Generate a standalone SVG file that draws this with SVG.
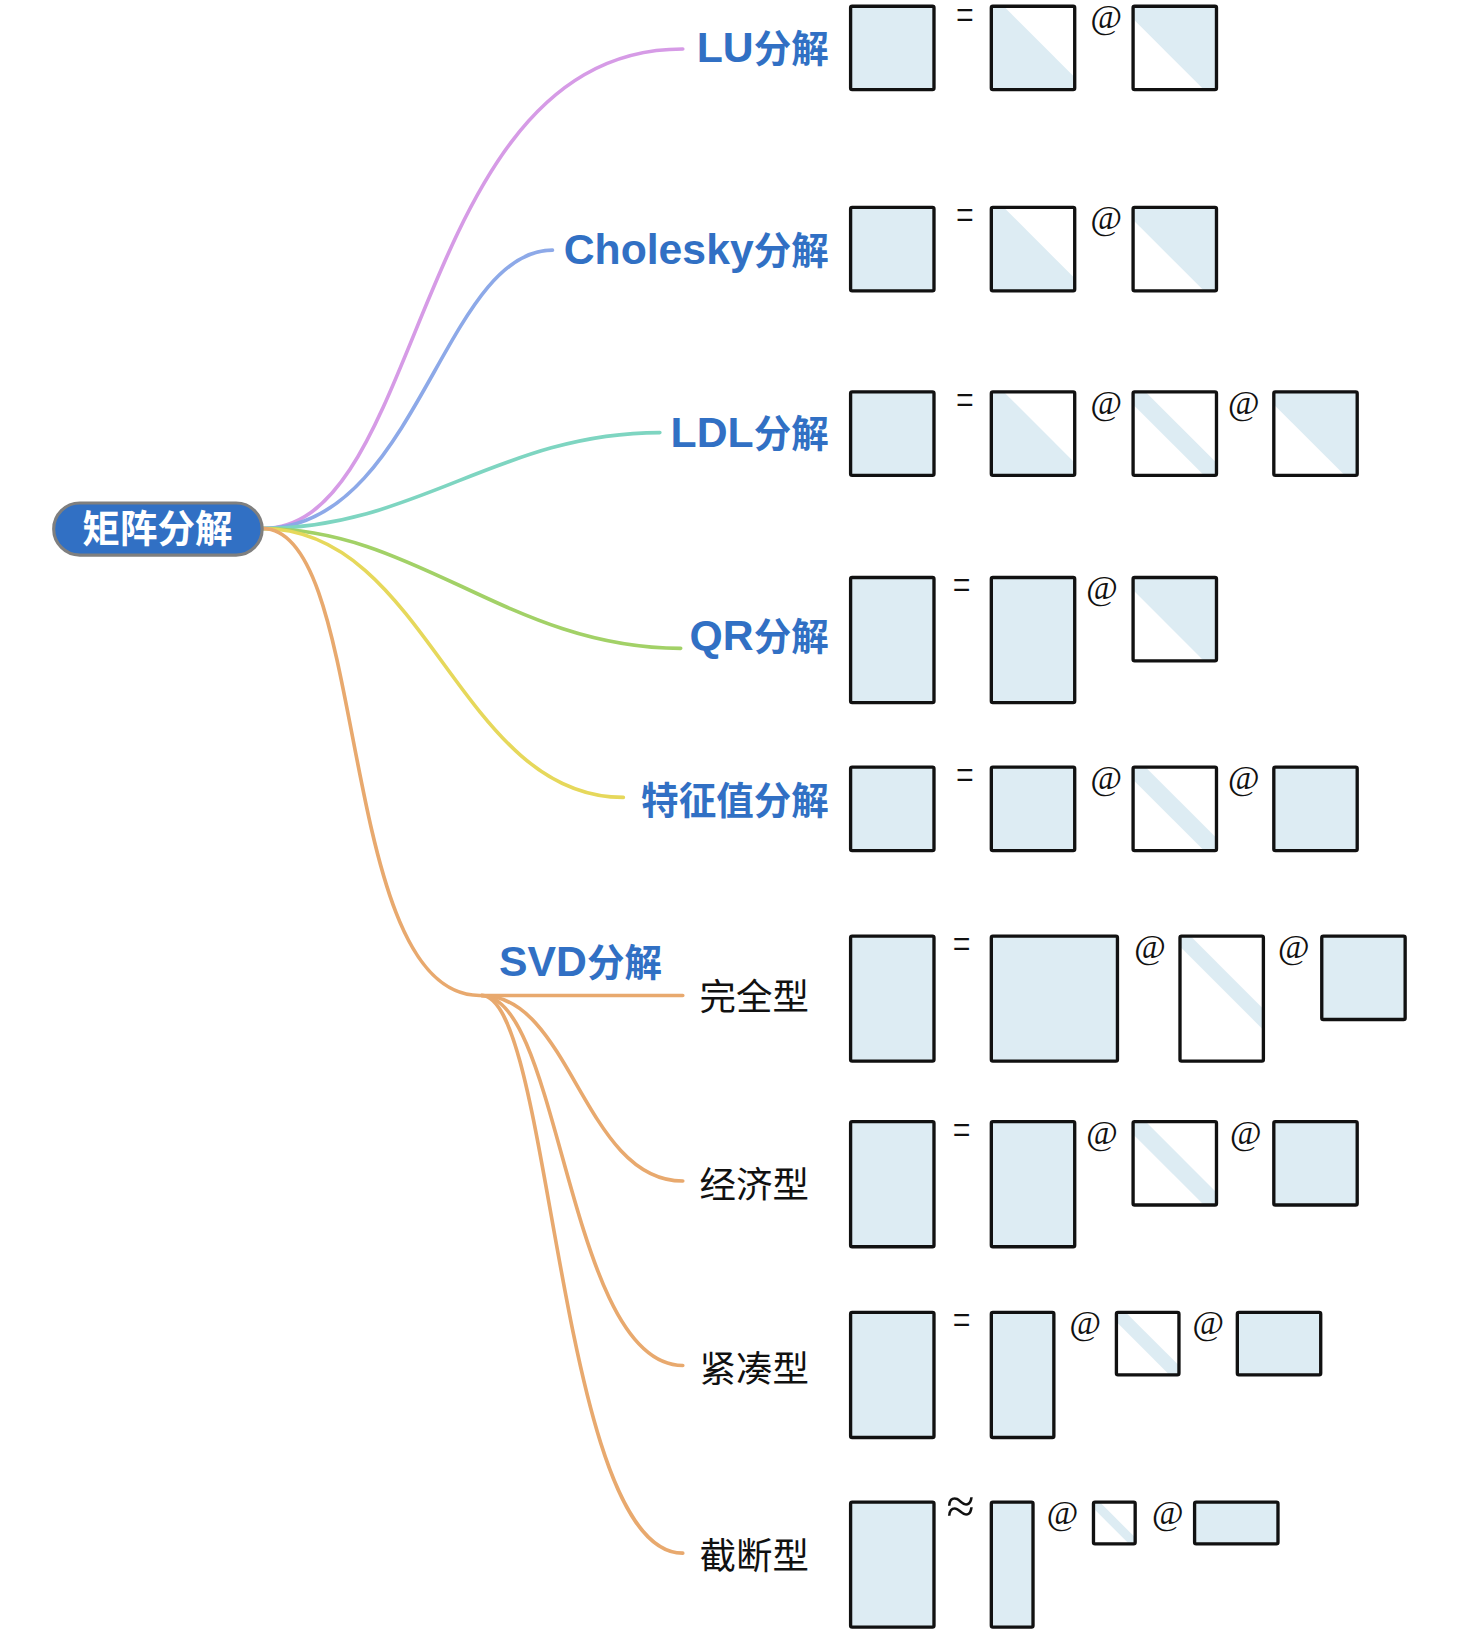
<svg xmlns="http://www.w3.org/2000/svg" width="1477" height="1637" viewBox="0 0 1477 1637">
<style>
.lbl{font-family:"Liberation Sans","Noto Sans CJK SC",sans-serif;font-weight:bold;font-size:36px;fill:#3170C4;text-anchor:end}
.lat{font-size:41px}
.sub{font-family:"Noto Sans CJK SC",sans-serif;font-size:35px;fill:#111}
.sym{font-family:"Liberation Serif",serif;font-size:44px;fill:#111}
.ap{font-family:"Liberation Serif",serif;font-size:48px;fill:#111}
.at{font-family:"Liberation Serif",serif;font-style:italic;font-size:33px;fill:#111;text-anchor:middle}
.edge{fill:none;stroke-width:3.5;stroke-linecap:round}
.mb{fill:none;stroke:#111;stroke-width:3.2}
.mf{fill:#DDECF3;stroke:#111;stroke-width:3.2}
.tri{fill:#DDECF3}
</style>
<rect width="1477" height="1637" fill="#fff"/>
<g transform="scale(1.0424)">
<g id="connectors">
<path class="edge" stroke="#D69BE6" d="M252,507 C410,507 395,47 655,47"/>
<path class="edge" stroke="#8DA9E8" d="M252,507 C400,507 425,240 530,240"/>
<path class="edge" stroke="#7ED5C1" d="M252,507 C400,507 480,415 633,415"/>
<path class="edge" stroke="#A2D167" d="M252,507 C400,507 490,622 653,622"/>
<path class="edge" stroke="#E6D85B" d="M252,507 C410,507 440,765 598,765"/>
<path class="edge" stroke="#E8A96E" d="M252,507 C355,507 322,955 460,955 L655,955"/>
<path class="edge" stroke="#E8A96E" d="M462,955 C548,955 560,1133 655,1133"/>
<path class="edge" stroke="#E8A96E" d="M462,955 C538,955 545,1310 655,1310"/>
<path class="edge" stroke="#E8A96E" d="M462,955 C530,955 535,1490 655,1490"/>
</g>
<g id="root">
<rect x="51.5" y="482.5" width="200" height="50" rx="25" fill="#3170C4" stroke="#7F7F7F" stroke-width="3"/>
<text x="151" y="520" font-family="Noto Sans CJK SC,sans-serif" font-weight="bold" font-size="36" fill="#fff" text-anchor="middle">矩阵分解</text>
</g>
<g id="lu">
<text class="lbl" x="795" y="59"><tspan class="lat">LU</tspan>分解</text>
<rect class="mf" x="816" y="6" width="80" height="80" rx="1.5"/>
<text class="sym" x="917" y="29" textLength="17" lengthAdjust="spacingAndGlyphs">=</text>
<polygon class="tri" points="951,6 963,6 1031,74 1031,86 951,86"/>
<rect class="mb" x="951" y="6" width="80" height="80" rx="1.5"/>
<text class="at" x="1061" y="27">@</text>
<polygon class="tri" points="1087,6 1167,6 1167,86 1155,86 1087,18"/>
<rect class="mb" x="1087" y="6" width="80" height="80" rx="1.5"/>
</g>
<g id="cholesky">
<text class="lbl" x="795" y="253"><tspan class="lat">Cholesky</tspan>分解</text>
<rect class="mf" x="816" y="199" width="80" height="80" rx="1.5"/>
<text class="sym" x="917" y="221" textLength="17" lengthAdjust="spacingAndGlyphs">=</text>
<polygon class="tri" points="951,199 963,199 1031,267 1031,279 951,279"/>
<rect class="mb" x="951" y="199" width="80" height="80" rx="1.5"/>
<text class="at" x="1061" y="220">@</text>
<polygon class="tri" points="1087,199 1167,199 1167,279 1155,279 1087,211"/>
<rect class="mb" x="1087" y="199" width="80" height="80" rx="1.5"/>
</g>
<g id="ldl">
<text class="lbl" x="795" y="429"><tspan class="lat">LDL</tspan>分解</text>
<rect class="mf" x="816" y="376" width="80" height="80" rx="1.5"/>
<text class="sym" x="917" y="398" textLength="17" lengthAdjust="spacingAndGlyphs">=</text>
<polygon class="tri" points="951,376 963,376 1031,444 1031,456 951,456"/>
<rect class="mb" x="951" y="376" width="80" height="80" rx="1.5"/>
<text class="at" x="1061" y="397">@</text>
<polygon class="tri" points="1087,376 1099,376 1167,444 1167,456 1155,456 1087,388"/>
<rect class="mb" x="1087" y="376" width="80" height="80" rx="1.5"/>
<text class="at" x="1193" y="397">@</text>
<polygon class="tri" points="1222,376 1302,376 1302,456 1290,456 1222,388"/>
<rect class="mb" x="1222" y="376" width="80" height="80" rx="1.5"/>
</g>
<g id="qr">
<text class="lbl" x="795" y="624"><tspan class="lat">QR</tspan>分解</text>
<rect class="mf" x="816" y="554" width="80" height="120" rx="1.5"/>
<text class="sym" x="914" y="576" textLength="17" lengthAdjust="spacingAndGlyphs">=</text>
<rect class="mf" x="951" y="554" width="80" height="120" rx="1.5"/>
<text class="at" x="1057" y="575">@</text>
<polygon class="tri" points="1087,554 1167,554 1167,634 1155,634 1087,566"/>
<rect class="mb" x="1087" y="554" width="80" height="80" rx="1.5"/>
</g>
<g id="eigen">
<text class="lbl" x="795" y="781">特征值分解</text>
<rect class="mf" x="816" y="736" width="80" height="80" rx="1.5"/>
<text class="sym" x="917" y="758" textLength="17" lengthAdjust="spacingAndGlyphs">=</text>
<rect class="mf" x="951" y="736" width="80" height="80" rx="1.5"/>
<text class="at" x="1061" y="757">@</text>
<polygon class="tri" points="1087,736 1099,736 1167,804 1167,816 1155,816 1087,748"/>
<rect class="mb" x="1087" y="736" width="80" height="80" rx="1.5"/>
<text class="at" x="1193" y="757">@</text>
<rect class="mf" x="1222" y="736" width="80" height="80" rx="1.5"/>
</g>
<g id="svd">
<text class="lbl" x="635" y="936"><tspan class="lat">SVD</tspan>分解</text>
</g>
<g id="svd-full">
<text class="sub" x="671" y="969">完全型</text>
<rect class="mf" x="816" y="898" width="80" height="120" rx="1.5"/>
<text class="sym" x="914" y="920" textLength="17" lengthAdjust="spacingAndGlyphs">=</text>
<rect class="mf" x="951" y="898" width="121" height="120" rx="1.5"/>
<text class="at" x="1103" y="919">@</text>
<polygon class="tri" points="1132,898 1142,898 1212,968 1212,988 1132,908"/>
<rect class="mb" x="1132" y="898" width="80" height="120" rx="1.5"/>
<text class="at" x="1241" y="919">@</text>
<rect class="mf" x="1268" y="898" width="80" height="80" rx="1.5"/>
</g>
<g id="svd-economy">
<text class="sub" x="671" y="1149">经济型</text>
<rect class="mf" x="816" y="1076" width="80" height="120" rx="1.5"/>
<text class="sym" x="914" y="1098" textLength="17" lengthAdjust="spacingAndGlyphs">=</text>
<rect class="mf" x="951" y="1076" width="80" height="120" rx="1.5"/>
<text class="at" x="1057" y="1097">@</text>
<polygon class="tri" points="1087,1076 1099,1076 1167,1144 1167,1156 1155,1156 1087,1088"/>
<rect class="mb" x="1087" y="1076" width="80" height="80" rx="1.5"/>
<text class="at" x="1195" y="1097">@</text>
<rect class="mf" x="1222" y="1076" width="80" height="80" rx="1.5"/>
</g>
<g id="svd-compact">
<text class="sub" x="671" y="1326">紧凑型</text>
<rect class="mf" x="816" y="1259" width="80" height="120" rx="1.5"/>
<text class="sym" x="914" y="1281" textLength="17" lengthAdjust="spacingAndGlyphs">=</text>
<rect class="mf" x="951" y="1259" width="60" height="120" rx="1.5"/>
<text class="at" x="1041" y="1280">@</text>
<polygon class="tri" points="1071,1259 1080,1259 1131,1310 1131,1319 1122,1319 1071,1268"/>
<rect class="mb" x="1071" y="1259" width="60" height="60" rx="1.5"/>
<text class="at" x="1159" y="1280">@</text>
<rect class="mf" x="1187" y="1259" width="80" height="60" rx="1.5"/>
</g>
<g id="svd-truncated">
<text class="sub" x="671" y="1505">截断型</text>
<rect class="mf" x="816" y="1441" width="80" height="120" rx="1.5"/>
<text class="ap" x="908" y="1461" textLength="27" lengthAdjust="spacingAndGlyphs">≈</text>
<rect class="mf" x="951" y="1441" width="40" height="120" rx="1.5"/>
<text class="at" x="1019" y="1462">@</text>
<polygon class="tri" points="1049,1441 1055,1441 1089,1475 1089,1481 1083,1481 1049,1447"/>
<rect class="mb" x="1049" y="1441" width="40" height="40" rx="1.5"/>
<text class="at" x="1120" y="1462">@</text>
<rect class="mf" x="1146" y="1441" width="80" height="40" rx="1.5"/>
</g>
</g>
</svg>
